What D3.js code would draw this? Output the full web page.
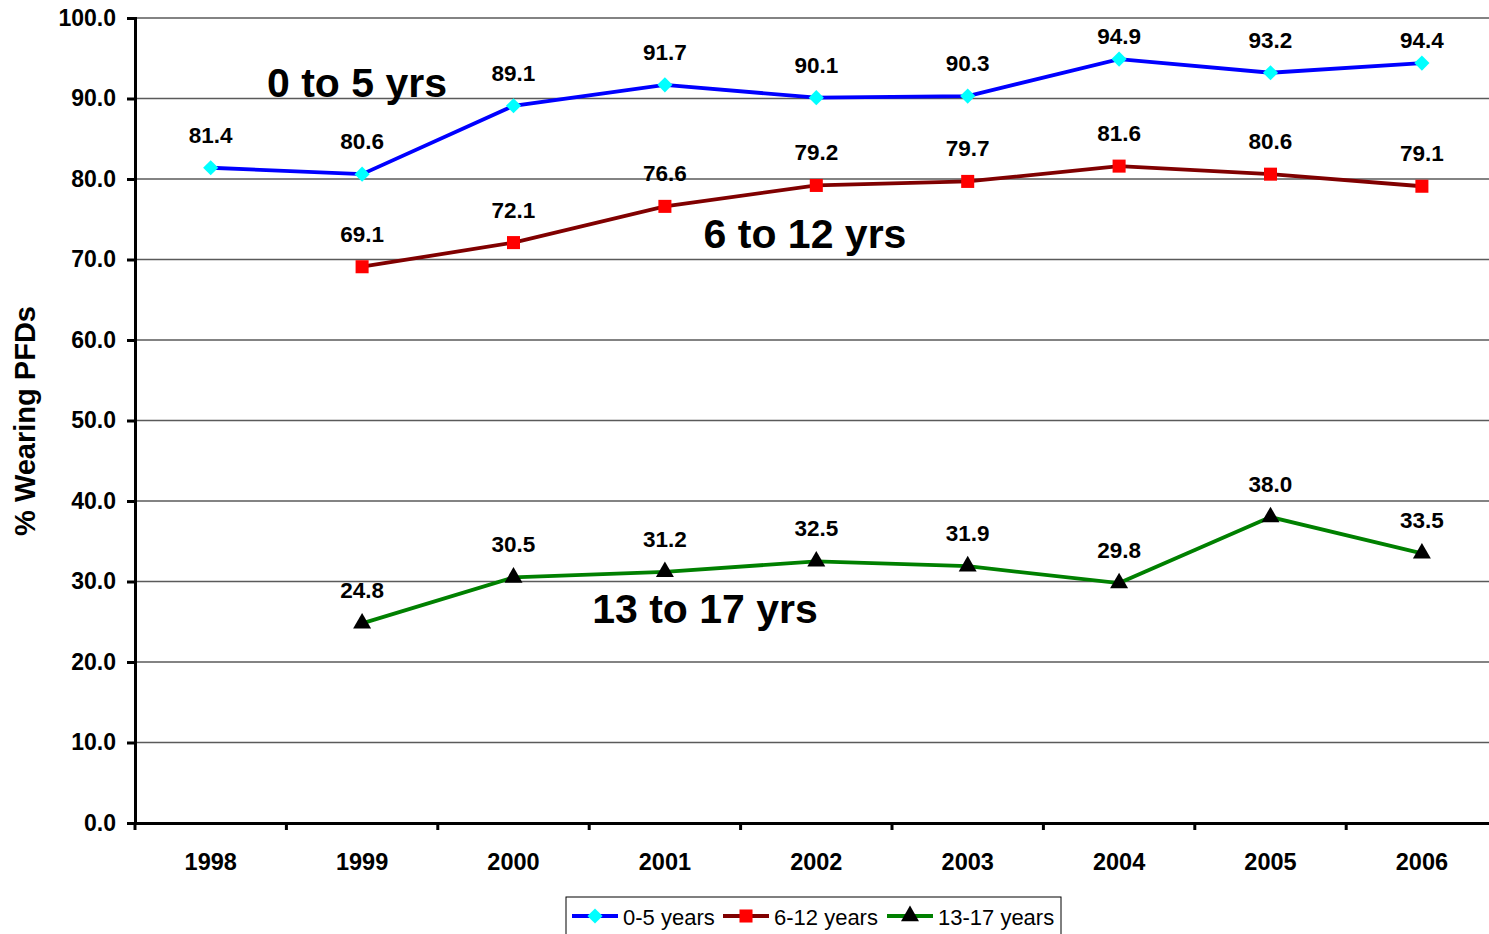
<!DOCTYPE html>
<html>
<head>
<meta charset="utf-8">
<script src="https://cdn.jsdelivr.net/npm/d3@7"></script>
<style>
  body { margin: 0; background: #fff; }
  svg { display: block; font-family: "Liberation Sans", Arial, sans-serif; }
</style>
</head>
<body>
<svg></svg>
<script>
const years = ['1998','1999','2000','2001','2002','2003','2004','2005','2006']
const young = [81.4, 80.6, 89.1, 91.7, 90.1, 90.3, 94.9, 93.2, 94.4]
const middle = [null, 69.1, 72.1, 76.6, 79.2, 79.7, 81.6, 80.6, 79.1]
const teen = [null, 24.8, 30.5, 31.2, 32.5, 31.9, 29.8, 38.0, 33.5]
const yTicks = [0, 10, 20, 30, 40, 50, 60, 70, 80, 90, 100]

const width = 1489, height = 934
const svg = d3.select('svg').attr('width', width).attr('height', height)

const plotLeft = 135, plotTop = 18, plotBottom = 823
const xScale = d3.scaleBand().domain(years).range([plotLeft, plotLeft + 9 * 151.4])
const yScale = d3.scaleLinear().domain([0, 100]).range([plotBottom, plotTop])
const cx = d => xScale(d) + xScale.bandwidth() / 2

// gridlines
svg.append('g').selectAll('line')
  .data(yTicks.filter(d => d > 0))
  .enter().append('line')
    .attr('x1', plotLeft).attr('x2', width)
    .attr('y1', d => yScale(d)).attr('y2', d => yScale(d))
    .attr('stroke', '#5a5a5a').attr('stroke-width', 1.3)

// y axis
const yAxis = d3.axisLeft(yScale).tickValues(yTicks).tickSize(8).tickPadding(11)
  .tickFormat(d3.format('.1f'))
const yAxisG = svg.append('g').attr('transform', `translate(${plotLeft},0)`).call(yAxis)
yAxisG.select('.domain').attr('stroke-width', 3)
yAxisG.selectAll('.tick line').attr('stroke-width', 3)
yAxisG.selectAll('text').attr('font-size', 23).attr('font-weight', 'bold')
  .attr('font-family', '"Liberation Sans", Arial, sans-serif').attr('fill', '#000')

// x axis
const xAxis = d3.axisBottom(xScale).tickSize(0).tickPadding(30)
const xAxisG = svg.append('g').attr('transform', `translate(0,${plotBottom})`).call(xAxis)
xAxisG.select('.domain').attr('stroke-width', 3)
xAxisG.selectAll('text').attr('font-size', 23.5).attr('font-weight', 'bold')
  .attr('font-family', '"Liberation Sans", Arial, sans-serif').attr('fill', '#000')
svg.append('g').selectAll('line')
  .data(years)
  .enter().append('line')
    .attr('x1', d => xScale(d)).attr('x2', d => xScale(d))
    .attr('y1', plotBottom).attr('y2', plotBottom + 7)
    .attr('stroke', '#000').attr('stroke-width', 3)

// y title
svg.append('text')
  .attr('transform', 'translate(35,421) rotate(-90)')
  .attr('text-anchor', 'middle')
  .attr('font-size', 29).attr('font-weight', 'bold')
  .text('% Wearing PFDs')

// diamond = square turned 45 degrees
const diamond = {
  draw(ctx, size) {
    const r = Math.sqrt(size / 2)
    ctx.moveTo(0, -r); ctx.lineTo(r, 0); ctx.lineTo(0, r); ctx.lineTo(-r, 0); ctx.closePath()
  }
}

const series = [
  { name: '0-5 years', values: young, line: '#0000ff', fill: '#00ffff', shape: diamond, size: 115 },
  { name: '6-12 years', values: middle, line: '#800000', fill: '#ff0000', shape: d3.symbolSquare, size: 170 },
  { name: '13-17 years', values: teen, line: '#008000', fill: '#000000', shape: d3.symbolTriangle, size: 140 }
]

const line = d3.line()
  .defined(d => d.v != null)
  .x(d => cx(d.y))
  .y(d => yScale(d.v))

// labels sit above the point, but closer when near the top of the plot
const labelY = v => {
  const py = yScale(v)
  return (py - 33 < 35) ? py - 15 : py - 25
}

series.forEach(s => {
  const pts = years.map((y, i) => ({ y: y, v: s.values[i] }))
  const valid = pts.filter(d => d.v != null)
  svg.append('path')
    .datum(pts)
    .attr('d', line)
    .attr('fill', 'none')
    .attr('stroke', s.line)
    .attr('stroke-width', 3.8)

  svg.append('g').selectAll('path')
    .data(valid)
    .enter().append('path')
      .attr('d', d3.symbol().type(s.shape).size(s.size))
      .attr('transform', d => `translate(${cx(d.y)},${yScale(d.v)})`)
      .attr('fill', s.fill)

  svg.append('g').selectAll('text')
    .data(valid)
    .enter().append('text')
      .attr('x', d => cx(d.y))
      .attr('y', d => labelY(d.v))
      .attr('text-anchor', 'middle')
      .attr('font-size', 22.5).attr('font-weight', 'bold')
      .text(d => d.v.toFixed(1))
})

// series annotations
const notes = [
  { text: '0 to 5 yrs', x: 357, y: 97 },
  { text: '6 to 12 yrs', x: 805, y: 248 },
  { text: '13 to 17 yrs', x: 705, y: 623 }
]
svg.append('g').selectAll('text')
  .data(notes)
  .enter().append('text')
    .attr('x', d => d.x).attr('y', d => d.y)
    .attr('text-anchor', 'middle')
    .attr('font-size', 41).attr('font-weight', 'bold')
    .text(d => d.text)

// legend
const legend = svg.append('g')
legend.append('rect')
  .attr('x', 566).attr('y', 897).attr('width', 495).attr('height', 45)
  .attr('fill', '#fff').attr('stroke', '#000').attr('stroke-width', 1)
const legX = [572, 723, 887]
series.forEach((s, i) => {
  const x0 = legX[i]
  legend.append('line')
    .attr('x1', x0).attr('x2', x0 + 46)
    .attr('y1', 916).attr('y2', 916)
    .attr('stroke', s.line).attr('stroke-width', 3.8)
  legend.append('path')
    .attr('d', d3.symbol().type(s.shape).size(s.size))
    .attr('transform', `translate(${x0 + 23},916)`)
    .attr('fill', s.fill)
  legend.append('text')
    .attr('x', x0 + 51).attr('y', 925)
    .attr('font-size', 22)
    .text(s.name)
})
</script>
</body>
</html>
